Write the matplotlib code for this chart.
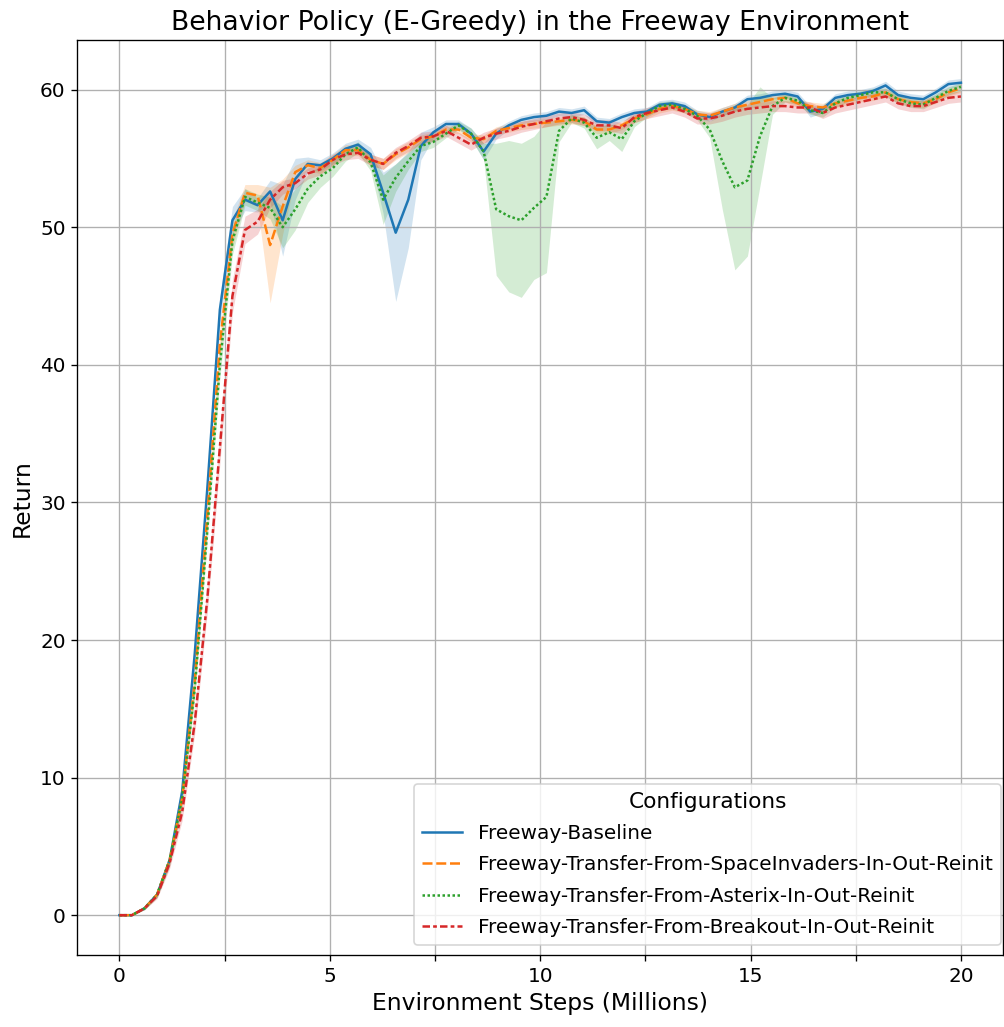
import numpy as np
from matplotlib import pyplot as plt
from matplotlib.ticker import MultipleLocator, FuncFormatter

# environment steps (millions), one logged point per ~0.3M steps
steps = np.linspace(0, 20, 68)

labels = [
    "Freeway-Baseline",
    "Freeway-Transfer-From-SpaceInvaders-In-Out-Reinit",
    "Freeway-Transfer-From-Asterix-In-Out-Reinit",
    "Freeway-Transfer-From-Breakout-In-Out-Reinit",
]

baseline = [
    0, 0, 0.5, 1.5, 4, 9, 19, 31, 44, 50.5,
    52.0, 51.6, 52.6, 50.5, 53.5, 54.6, 54.5, 55.0, 55.7, 56.0,
    55.3, 52.5, 49.6, 52.0, 55.9, 56.9, 57.5, 57.5, 56.8, 55.5,
    56.8, 57.4, 57.8, 58.0, 58.1, 58.4, 58.3, 58.5, 57.7, 57.6,
    58.0, 58.3, 58.4, 58.9, 59.0, 58.8, 58.2, 58.0, 58.4, 58.7,
    59.3, 59.4, 59.6, 59.7, 59.5, 58.4, 58.6, 59.4, 59.6, 59.7,
    59.9, 60.3, 59.6, 59.4, 59.3, 59.8, 60.4, 60.5,
]
baseline_ci = [
    0, 0, 0.1, 0.2, 0.4, 0.6, 0.8, 0.8, 1.0, 1.0,
    0.8, 0.5, 0.8, 2.6, 1.5, 0.5, 0.4, 0.4, 0.4, 0.4,
    0.5, 1.5, 5.0, 3.5, 1.0, 0.4, 0.3, 0.3, 0.4, 0.6,
    0.4, 0.3, 0.3, 0.3, 0.3, 0.3, 0.3, 0.3, 0.3, 0.3,
    0.3, 0.3, 0.3, 0.3, 0.3, 0.3, 0.3, 0.3, 0.3, 0.3,
    0.3, 0.3, 0.3, 0.3, 0.3, 0.4, 0.3, 0.3, 0.3, 0.3,
    0.3, 0.3, 0.3, 0.3, 0.3, 0.3, 0.3, 0.3,
]

space_invaders = [
    0, 0, 0.5, 1.5, 4, 8.5, 17, 29, 41.5, 49.5,
    52.5, 52.3, 48.7, 51.5, 54.0, 54.5, 54.3, 54.9, 55.6, 55.6,
    54.9, 54.6, 55.3, 55.8, 56.4, 56.6, 57.1, 57.1, 56.5, 56.4,
    57.0, 57.2, 57.4, 57.5, 57.6, 57.7, 57.8, 57.7, 57.1, 57.1,
    57.4, 57.9, 58.2, 58.6, 58.8, 58.6, 58.2, 58.1, 58.4, 58.7,
    58.9, 59.1, 59.3, 59.4, 59.0, 58.8, 58.7, 59.0, 59.2, 59.4,
    59.5, 59.8, 59.3, 59.1, 59.0, 59.3, 59.8, 60.1,
]
space_invaders_ci = [
    0, 0, 0.1, 0.2, 0.4, 0.6, 0.8, 0.8, 1.0, 1.0,
    0.6, 0.8, 4.2, 2.0, 0.5, 0.4, 0.4, 0.4, 0.4, 0.4,
    0.4, 0.4, 0.4, 0.4, 0.3, 0.3, 0.3, 0.3, 0.3, 0.3,
    0.3, 0.3, 0.3, 0.3, 0.3, 0.3, 0.3, 0.3, 0.3, 0.3,
    0.3, 0.3, 0.3, 0.3, 0.3, 0.3, 0.3, 0.3, 0.3, 0.3,
    0.3, 0.3, 0.3, 0.3, 0.3, 0.3, 0.3, 0.3, 0.3, 0.3,
    0.3, 0.3, 0.3, 0.3, 0.3, 0.3, 0.3, 0.3,
]

asterix = [
    0, 0, 0.5, 1.5, 4, 8.5, 16.5, 28, 40, 49,
    52.2, 51.8, 51.4, 50.0, 51.3, 52.8, 53.7, 54.3, 55.3, 55.8,
    54.7, 52.0, 53.6, 54.8, 55.9, 56.2, 56.8, 57.4, 56.8, 55.5,
    51.3, 50.8, 50.5, 51.4, 52.2, 57.0, 57.9, 57.6, 56.5, 56.9,
    56.4, 57.7, 58.3, 58.8, 58.9, 58.6, 58.1, 57.1, 54.8, 52.9,
    53.4, 56.6, 58.8, 59.4, 59.2, 58.5, 58.3, 59.0, 59.4, 59.6,
    59.8, 59.8, 59.3, 59.0, 58.9, 59.4, 59.9, 60.2,
]
asterix_ci = [
    0, 0, 0.1, 0.2, 0.4, 0.6, 0.8, 0.8, 1.0, 1.0,
    0.6, 0.6, 0.8, 1.5, 1.5, 1.0, 0.8, 0.6, 0.5, 0.4,
    0.6, 1.8, 1.0, 0.6, 0.4, 0.4, 0.3, 0.3, 0.4, 0.6,
    4.8, 5.5, 5.6, 5.2, 5.5, 0.8, 0.3, 0.4, 0.8, 0.6,
    0.9, 0.4, 0.3, 0.3, 0.3, 0.3, 0.3, 0.6, 3.5, 6.0,
    5.5, 3.6, 0.6, 0.3, 0.3, 0.3, 0.3, 0.3, 0.3, 0.3,
    0.3, 0.3, 0.3, 0.3, 0.3, 0.3, 0.3, 0.3,
]

breakout = [
    0, 0, 0.5, 1.4, 3.8, 7.5, 14, 23, 34, 45,
    49.8, 50.4, 52.0, 52.9, 53.2, 53.9, 54.2, 54.9, 55.3, 55.4,
    54.9, 54.6, 55.4, 55.9, 56.5, 56.6, 57.0, 56.5, 56.0, 56.5,
    56.8, 57.0, 57.3, 57.5, 57.7, 57.9, 58.0, 57.8, 57.4, 57.4,
    57.2, 58.0, 58.3, 58.5, 58.7, 58.4, 57.9, 57.9, 58.1, 58.4,
    58.6, 58.7, 58.8, 58.8, 58.7, 58.7, 58.3, 58.7, 58.9, 59.1,
    59.3, 59.5, 59.0, 58.8, 58.8, 59.1, 59.4, 59.5,
]
breakout_ci = [
    0, 0, 0.1, 0.2, 0.4, 0.6, 0.8, 1.0, 1.2, 1.2,
    1.0, 0.9, 0.6, 0.5, 0.4, 0.4, 0.4, 0.4, 0.4, 0.4,
    0.4, 0.4, 0.4, 0.4, 0.4, 0.4, 0.4, 0.4, 0.4, 0.4,
    0.4, 0.4, 0.4, 0.4, 0.4, 0.4, 0.4, 0.4, 0.4, 0.4,
    0.4, 0.4, 0.4, 0.4, 0.4, 0.4, 0.4, 0.4, 0.4, 0.4,
    0.4, 0.4, 0.4, 0.4, 0.4, 0.4, 0.4, 0.4, 0.4, 0.4,
    0.4, 0.4, 0.4, 0.4, 0.4, 0.4, 0.4, 0.4,
]

series = [baseline, space_invaders, asterix, breakout]
bands = [baseline_ci, space_invaders_ci, asterix_ci, breakout_ci]
colors = ["tab:blue", "tab:orange", "tab:green", "tab:red"]
dashes = [(), (4, 1.5), (1, 1), (3, 1.25, 1.5, 1.25)]

fig = plt.figure(figsize=(1004 / 120, 1027 / 120), dpi=120)
ax = fig.add_axes([0.077, 0.070, 0.922, 0.891])

for label, mean, ci, color, dash in zip(labels, series, bands, colors, dashes):
    mean = np.array(mean)
    ci = np.array(ci)
    ax.fill_between(steps, mean - ci, mean + ci, color=color, alpha=0.2, linewidth=0)
    line, = ax.plot(steps, mean, color=color, linewidth=1.5, label=label)
    if dash:
        line.set_dashes(dash)

ax.set_xlim(-1, 21)
ax.set_ylim(-2.9, 63.6)
ax.xaxis.set_major_locator(MultipleLocator(2.5))
ax.xaxis.set_major_formatter(FuncFormatter(lambda v, p: f"{v:.0f}" if v % 5 == 0 else ""))
ax.yaxis.set_major_locator(MultipleLocator(10))
ax.tick_params(labelsize=12)
ax.grid(True)

ax.set_title("Behavior Policy (E-Greedy) in the Freeway Environment", fontsize=16)
ax.set_xlabel("Environment Steps (Millions)", fontsize=14)
ax.set_ylabel("Return", fontsize=14)
ax.legend(title="Configurations", loc="lower right", bbox_to_anchor=(1.009, 0.0),
          fontsize=12, title_fontsize=13, labelspacing=0.62)

plt.savefig("out.png", dpi=120)
